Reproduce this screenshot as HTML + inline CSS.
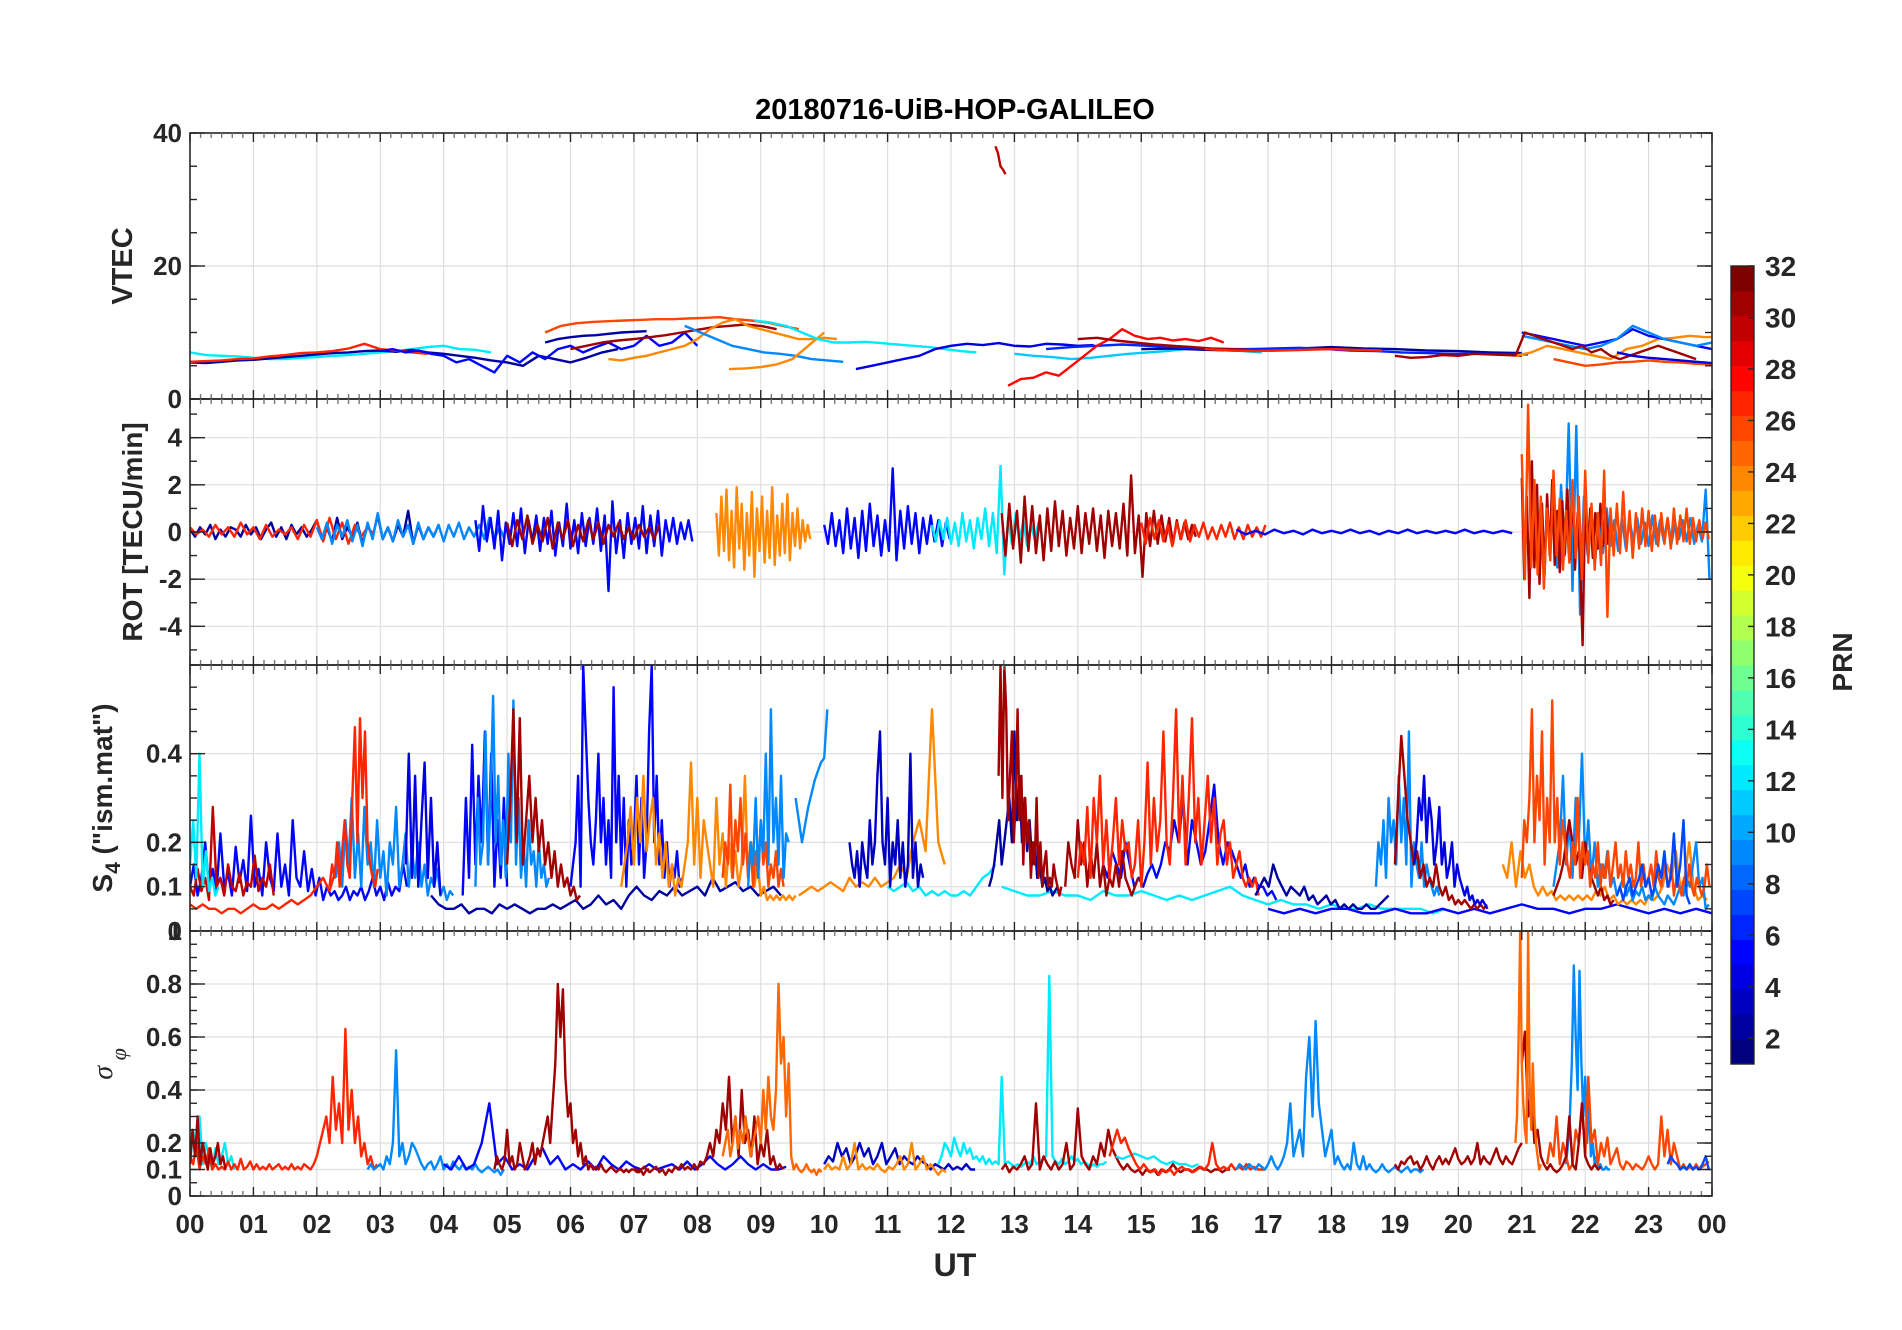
<!DOCTYPE html>
<html><head><meta charset="utf-8"><style>
html,body{margin:0;padding:0;background:#fff;}
svg{display:block;font-family:"Liberation Sans",Arial,sans-serif;}
.tl{font-size:26px;font-weight:bold;fill:#262626;}
</style></head><body>
<svg id="fig" width="1902" height="1330" viewBox="0 0 1902 1330" xmlns="http://www.w3.org/2000/svg">
<rect x="0" y="0" width="1902" height="1330" fill="#fff"/>
<text x="955" y="119" text-anchor="middle" font-size="29" font-weight="bold" fill="#000">20180716-UiB-HOP-GALILEO</text>
<g id="grid"></g><g id="series"></g><g id="axes"></g><g id="labels"></g><g id="cbar"></g>
<text x="955" y="1276" text-anchor="middle" font-size="32" font-weight="bold" fill="#262626">UT</text>
<text transform="translate(132,266) rotate(-90)" text-anchor="middle" font-size="29" font-weight="bold" fill="#262626">VTEC</text>
<text transform="translate(142,532) rotate(-90)" text-anchor="middle" font-size="28" font-weight="bold" fill="#262626">ROT [TECU/min]</text>
<text transform="translate(112,798) rotate(-90)" text-anchor="middle" font-size="28" font-weight="bold" fill="#262626">S<tspan font-size="21" dy="8">4</tspan><tspan dy="-8"> ("ism.mat")</tspan></text>
<text transform="translate(112,1064) rotate(-90)" text-anchor="middle" font-size="28" font-style="italic" fill="#262626" font-family="Liberation Serif, serif">σ<tspan font-size="22" dy="14"> φ</tspan></text>
<text transform="translate(1852,662) rotate(-90)" text-anchor="middle" font-size="28" font-weight="bold" fill="#262626">PRN</text>
</svg>
<script>
// ---------- data ----------
const hourTicks = ["00","01","02","03","04","05","06","07","08","09","10","11","12","13","14","15","16","17","18","19","20","21","22","23","00"];
const vtecTicks = [0,20,40];
const rotTicks = [-4,-2,0,2,4];
const s4Ticks = [0.1,0.2,0.4];
const sigTicks = [0,0.1,0.2,0.4,0.6,0.8];
const prnTicks = [2,4,6,8,10,12,14,16,18,20,22,24,26,28,30,32];

// VTEC tracks: values in TECU
const v01=[5.5,5.4,5.6,5.8,5.9,6.1,6.3,6.5,6.7,6.9,7.0,7.2,7.3,7.1,7.4,7.0,6.8,6.5,6.2,5.8,5.5,5.0,6.5,6.0,5.5,6.2,7.0,7.5];
const v02=[5.6,5.7,5.8,6.0,6.1,6.4,6.6,6.9,7.0,7.2,7.6,8.3,7.5,7.3,7.0,6.8];
const v03=[7.0,6.6,6.5,6.4,6.2,6.0,6.0,6.2,6.3,6.5,6.6,6.8,7.0,7.2,7.5,7.8,8.0,7.5,7.4,7.0];
const v04=[7.2,7.5,7.0,7.3,6.8,6.5,5.5,6.0,5.0,4.0,6.5,5.5,7.0,6.0,7.5,8.0,7.0,7.8,8.5,7.5,8.0,9.5,8.0,8.5,10.0,8.0];
const v05=[10.0,11.0,11.4,11.6,11.7,11.8,11.9,12.0,12.0,12.1,12.2,12.3,12.0,11.8,11.5,11.0,10.5];
const v06=[8.5,9.0,9.3,9.5,9.6,9.8,10.0,10.1,10.2];
const v07=[7.5,8.0,8.5,8.8,9.0,9.3,9.6,10.0,10.4,10.8,11.0,11.2,11.0,10.5];
const v08=[6.0,5.8,6.2,6.5,7.0,7.5,8.0,9.0,10.5,11.5,12.0,11.0,10.5,10.0,9.5,9.0,9.0,9.2,9.0];
const v09=[11.0,10.0,9.0,8.0,7.5,7.0,6.8,6.5,6.0,5.8,5.6];
const v10=[4.5,4.6,4.8,5.2,6.0,8.0,10.0];
const v11=[11.8,11.5,11.0,10.0,9.0,8.5,8.5,8.6,8.4,8.2,8.0,7.8,7.5,7.2,7.0];
const v12=[4.5,5.0,5.5,6.0,6.5,7.5,8.0,8.3,8.1,8.4,8.0,7.9,8.3,8.2,8.0,8.1];
const v13=[38,37,35,34.5,33.8];
const v14=[2,3,3.2,4,3.5,5,6.5,8,9,10.5,9.5,9,9.2,8.8,9.0,8.7,9.2,8.5];
const v15=[6.8,6.5,6.3,6.0,6.2,6.5,6.8,7.0,7.2,7.5,7.6,7.4,7.2,7.0];
const v16=[9.0,9.2,8.8,8.5,8.2,8.0,7.8,7.6,7.5,7.4];
const v17=[7.5,7.8,8.0,8.2,8.0,7.8,7.6,7.5,7.5,7.6,7.7,7.5,7.3,7.2,7.0,6.9,6.8,6.8,6.7,6.7];
const v18=[7.5,7.3,7.2,7.3,7.4,7.5,7.4,7.3];
const v19=[6.5,6.2,6.3,6.6,6.5,6.8,6.7,6.6,6.5];
const v20=[6.5,10.0,9.5,9.0,8.5,8.0,7.5,8.0,7.0,7.5,6.5,6.0,6.5,7.0,7.5,8.0,7.5,7.0,6.5,6.0];
const v21=[6.5,7.0,8.0,7.5,7.0,6.5,6.0,7.5,8.0,9.0,9.2,9.5,9.3,9.4,9.6,9.8];
const v22=[10.0,9.5,9.0,8.5,8.0,8.5,9.0,10.5,9.5,9.0,8.5,8.0,7.5,7.5,7.2,7.0];
const v23=[9.5,9.0,8.5,8.0,7.5,8.0,9.0,11.0,10.0,9.0,8.5,8.0,8.5,7.5,7.0,6.0];
const v24=[6.0,5.5,5.0,5.2,5.5,5.6,5.8,5.6,5.5,5.3,5.2,5.0];
const v25=[7,6.5,6.2,6,5.8,5.6,5.4];
const v26=[7.5,7.6,7.4,7.3,7.4,7.6,7.8,7.6,7.5,7.3,7.2,7.0,6.9];
// [prn, startHour, stepHours, values]
const vtecTracks=[[12,0,.25,v03],[2,0,.25,v01],[27,0,.25,v02],[5,3,.2,v04],[26,5.6,.25,v05],[2,5.6,.2,v06],[31,6,.25,v07],[24,6.6,.2,v08],[9,7.8,.25,v09],[24,8.5,.25,v10],[12,8.9,.25,v11],[4,10.5,.25,v12],[30,12.7,.04,v13],[11,13,.3,v15],[2,15,.5,v26],[6,13.5,.4,v17],[28,12.9,.2,v14],[31,14,.3,v16],[27,16,.4,v18],[31,19,.25,v19],[24,20.9,.25,v21],[5,21,.25,v22],[9,21,.25,v23],[26,21.5,.25,v24],[31,20.9,.15,v20],[4,22.5,.25,v25]];

// ROT tracks: TECU/min
const r01=[0.1,-0.2,0.2,-0.1,0.3,-0.3,0.1,-0.2,0.2,0.1,-0.2,0.3,-0.1,0.2,-0.3,0.1,0.4,-0.2,0.2,-0.3,0.3,-0.1,0.2,-0.2,0.1,0.5,-0.3,0.2,-0.4,0.6,-0.3,0.2,-0.2,0.4,-0.5,0.3,-0.2,0.7,-0.3,0.2,-0.4,0.3,-0.2,0.9,-0.5,0.3,-0.3,0.2,-0.2,0.3];
const r02=[0.2,-0.1,0.1,-0.2,0.3,-0.1,0.2,-0.2,0.4,-0.1,0.2,-0.3,0.3,-0.2,0.1,-0.1,0.2,-0.3,0.3,-0.2,0.5,-0.4,0.6,-0.3,0.4,-0.5,0.3,-0.2,0.2,-0.1];
const r03=[0.2,-0.3,0.4,-0.5,0.3,-0.2,0.5,-0.4,0.3,-0.6,0.4,-0.3,0.8,-0.3,0.2,-0.4,0.5,-0.2,0.3,-0.5,0.4,-0.3,0.2,-0.2,0.3,-0.4,0.3,-0.2,0.4,-0.3,0.2,-0.2,0.3,-0.3,0.6,-0.3,0.2,-0.3];
const r04=[0.5,-0.8,1.1,-0.4,0.6,-0.7,0.9,-1.2,0.4,-0.5,0.8,-0.6,1.0,-0.9,0.5,-0.4,0.7,-0.8,0.6,-0.5,0.9,-1.0,0.4,-0.6,1.2,-0.7,0.5,-0.9,0.8,-0.6,0.6,-0.5,1.0,-0.8,0.7,-2.5,1.3,-0.9,0.5,-1.1,0.8,-0.5,0.6,-0.7,1.1,-0.9,0.7,-0.6,0.9,-1.0,0.5,-0.4,0.6,-0.5,0.4,-0.3,0.5,-0.4];
const r05=[0.4,-0.6,0.5,-0.3,0.7,-0.5,0.3,-0.4,0.6,-0.7,0.4,-0.3,0.5,-0.6,0.3,-0.4,0.5,-0.3,0.4,-0.5,0.3,-0.2,0.4,-0.3,0.2,-0.3,0.3,-0.2,0.2,-0.3,0.3];
const r06=[0.8,-1.0,1.5,-0.8,1.8,-1.2,0.9,-1.5,1.9,-0.7,1.2,-1.6,0.8,-1.0,1.7,-1.9,1.0,-0.8,1.5,-1.3,0.9,-1.1,1.9,-1.4,0.7,-1.0,1.2,-0.9,1.6,-1.2,0.8,-0.6,1.0,-0.7,0.5,-0.4,0.3,-0.3];
const r07=[0.3,-0.5,0.8,-0.6,0.5,-0.9,1.0,-0.7,0.6,-1.1,0.9,-0.8,1.2,-0.6,0.7,-1.0,0.5,-0.8,2.7,-1.2,0.9,-0.7,1.1,-0.5,0.8,-0.9,0.6,-0.5,0.7,-0.4,0.5,-0.6,0.4,-0.3];
const r08=[0.3,-0.4,0.5,-0.3,0.6,-0.5,0.4,-0.6,0.8,-0.4,0.5,-0.7,0.6,-0.3,1.0,-0.6,0.8,-0.9,2.8,-1.8,0.6,-0.5,0.8,-0.4,0.5,-0.6,0.3,-0.3,0.4,-0.2];
const r09=[0.8,-1.0,1.2,-0.7,0.9,-1.3,1.5,-0.8,1.1,-0.9,0.7,-1.2,1.0,-0.8,1.3,-0.6,0.9,-1.0,0.6,-0.7,1.1,-0.9,0.8,-0.5,1.0,-0.8,0.7,-1.1,0.9,-0.6,0.8,-0.7,1.2,-1.0,2.4,-0.9,0.7,-1.9,0.8,-0.6,0.9,-0.5,0.7,-0.4,0.6,-0.5,0.5,-0.3,0.4,-0.3,0.3,-0.2];
const r10=[0.4,-0.5,0.6,-0.3,0.5,-0.4,0.3,-0.6,0.4,-0.3,0.5,-0.4,0.3,-0.2,0.4,-0.3,0.2,-0.3,0.3,-0.2,0.4,-0.3,0.2,-0.3,0.3,-0.2,0.2,-0.2,0.3];
const r11=[0.1,-0.1,0.05,-0.1,0.1,-0.05,0.05,-0.1,0.1,-0.05,0.05,-0.05,0.1,-0.05,0.05,-0.1,0.05,-0.05,0.1,-0.05,0.05,-0.05,0.05,-0.05,0.1,-0.05,0.05,-0.05,0.05,-0.05];
const r12=[2.3,-2.0,1.5,-2.8,3.0,-1.5,2.0,-2.2,1.2,-1.8,1.6,-1.0,2.2,-1.4,0.9,-1.7,1.3,-0.9,1.8,-1.2,2.1,-1.6,0.8,-1.3,-4.8,1.5,-0.9,1.0,-1.1,0.8,-0.7,1.2,-0.6,0.9,-0.5,0.7,-0.4];
const r13=[3.3,-2.0,5.4,-1.5,2.2,-1.8,1.5,-2.4,1.0,-1.2,2.6,-1.0,1.4,-1.6,0.9,-1.3,2.2,-1.1,1.5,-2.0,2.6,-1.3,1.2,-1.6,0.8,-1.4,2.6,-3.6,1.0,-1.0,1.2,-0.9,1.7,-0.8,0.9,-1.1,0.8,-0.7,1.0,-0.6,0.9,-0.8,0.7,-0.6,0.8,-0.5,0.6,-0.7,1.0,-0.5,0.7,-0.4,1.0,-0.5,0.6,-0.4,0.5,-0.3,0.4,-0.3];
const r14=[1.0,-1.5,2.0,-1.0,4.6,-2.5,4.5,-3.5,1.5,-1.0,0.8,-1.2,0.7,-0.9,1.0,-0.6,0.5,-0.8,0.6,-0.7,0.5,-0.4,0.6,-0.5,0.4,-0.6,0.7,-0.5,0.5,-0.4,0.6,-0.5,0.4,-0.3,0.5,-0.4,0.6,-0.5,0.3,-0.4,1.8,-2.0];
const rotTracks=[[2,0,.08,r01],[27,0,.1,r02],[9,2,.08,r03],[5,4.5,.06,r04],[31,5,.08,r05],[24,8.3,.04,r06],[5,10,.06,r07],[12,11.7,.06,r08],[31,12.8,.06,r09],[27,15,.07,r10],[5,16.5,.15,r11],[9,21.5,.06,r14],[31,21,.04,r12],[26,21,.05,r13]];

// S4 tracks
const s01=[0.15,0.25,0.12,0.4,0.1,0.18,0.09,0.12,0.08,0.1];
const s02=[0.1,0.15,0.08,0.12,0.2,0.1,0.14,0.09,0.22,0.1,0.13,0.08,0.19,0.11,0.16,0.09,0.26,0.1,0.14,0.08,0.2,0.12,0.09,0.22,0.1,0.15,0.08,0.25,0.12,0.1,0.18,0.09,0.14,0.08,0.12,0.07,0.1,0.08,0.09,0.07,0.08,0.1,0.07,0.09,0.08,0.1,0.07,0.09,0.12,0.08,0.1,0.07,0.11,0.08,0.1,0.09,0.15,0.1];
const s03=[0.1,0.08,0.14,0.09,0.12,0.07,0.28,0.1,0.12,0.08,0.15,0.1,0.09,0.13,0.08,0.11,0.1,0.17,0.09,0.12,0.1,0.15,0.08];
const s04=[0.06,0.05,0.06,0.05,0.05,0.04,0.05,0.05,0.04,0.05,0.06,0.05,0.05,0.06,0.05,0.06,0.07,0.06,0.07,0.08,0.1,0.12,0.09,0.14];
const s04b=[0.1,0.15,0.12,0.2,0.1,0.18,0.25,0.15,0.12,0.3,0.46,0.2,0.48,0.3,0.45,0.2,0.15,0.12,0.1,0.14];
const s05=[0.12,0.2,0.1,0.25,0.15,0.3,0.12,0.22,0.1,0.28,0.15,0.2,0.1,0.25,0.12,0.18,0.08,0.2,0.15,0.28,0.1,0.15,0.22,0.1,0.18,0.12,0.2,0.1,0.15,0.08,0.12,0.1,0.14,0.08,0.1,0.07,0.09,0.08];
const s06=[0.15,0.4,0.12,0.35,0.1,0.25,0.38,0.12,0.3,0.1,0.2,0.08];
const s07=[0.08,0.06,0.05,0.05,0.06,0.04,0.05,0.05,0.04,0.06,0.05,0.06,0.05,0.04,0.05,0.05,0.06,0.05,0.06,0.07,0.05,0.06,0.08,0.06,0.07,0.05,0.08,0.1,0.08,0.07,0.09,0.08,0.1,0.08,0.09,0.1,0.08,0.12,0.09,0.1,0.11,0.09,0.1,0.08,0.09,0.1,0.08];
const s08=[0.1,0.3,0.15,0.2,0.45,0.15,0.3,0.53,0.2,0.35,0.15,0.25,0.12,0.4,0.2,0.52,0.15,0.3,0.12,0.2,0.1,0.25,0.15,0.18,0.1,0.2,0.12,0.15,0.1,0.12];
const s09=[0.08,0.3,0.12,0.42,0.15,0.35,0.2,0.45,0.15,0.4,0.1,0.25,0.12,0.3,0.1];
const s10=[0.15,0.3,0.5,0.2,0.48,0.15,0.25,0.35,0.2,0.3,0.18,0.25,0.15,0.2,0.12,0.18,0.1,0.15,0.1,0.12,0.08,0.1,0.07,0.08];
const s11=[0.1,0.15,0.2,0.35,0.1,0.6,0.45,0.3,0.2,0.15,0.25,0.4,0.2,0.3,0.15,0.25,0.12,0.55,0.2,0.35,0.15,0.3,0.1,0.25,0.15,0.2,0.35,0.15,0.3,0.12,0.2,0.45,0.6,0.2,0.35,0.15,0.25,0.12,0.2,0.1,0.15,0.12,0.18,0.1,0.12];
const s12=[0.1,0.15,0.2,0.28,0.15,0.3,0.2,0.35,0.18,0.25,0.3,0.15,0.22,0.12,0.2,0.1,0.15,0.08,0.12,0.1,0.15,0.2,0.38,0.15,0.3,0.12,0.25,0.2,0.15,0.1,0.3,0.15,0.22,0.1,0.2,0.12,0.18,0.1,0.15,0.35,0.12,0.2,0.1,0.15,0.08,0.1,0.07,0.08,0.07,0.08,0.07,0.08,0.07,0.08,0.07,0.08];
const s13=[0.12,0.2,0.15,0.33,0.12,0.25,0.18,0.3,0.15,0.22,0.12,0.2,0.1,0.18,0.12,0.25,0.15,0.2,0.1,0.15,0.12,0.18,0.1,0.14,0.1];
const s14=[0.1,0.2,0.15,0.3,0.12,0.25,0.18,0.4,0.15,0.5,0.2,0.3,0.15,0.35,0.12,0.22,0.2];
const s14b=[0.3,0.25,0.2,0.24,0.28,0.31,0.34,0.36,0.38,0.39,0.5];
const s15=[0.08,0.09,0.1,0.09,0.1,0.11,0.1,0.09,0.12,0.1,0.11,0.1,0.12,0.1,0.11,0.12,0.15,0.12,0.2,0.25,0.18,0.5,0.2,0.15];
const s16=[0.2,0.15,0.12,0.18,0.1,0.2,0.15,0.12,0.25,0.15,0.2,0.35,0.45,0.2,0.15,0.3,0.1,0.2,0.15,0.25,0.12,0.2,0.1,0.15,0.4,0.12,0.2,0.1,0.15,0.12];
const s17=[0.1,0.09,0.1,0.11,0.09,0.1,0.08,0.09,0.08,0.09,0.08,0.08,0.09,0.08,0.1,0.12,0.13,0.15];
const s18=[0.35,0.6,0.3,0.6,0.5,0.25,0.35,0.45,0.2,0.3,0.5,0.25,0.35,0.15,0.3,0.2,0.25,0.12,0.2,0.15,0.3,0.12,0.2,0.1,0.15,0.18,0.1,0.12,0.1,0.15,0.12,0.1,0.08,0.1];
const s19=[0.1,0.12,0.15,0.2,0.25,0.15,0.2,0.25,0.3,0.2,0.45,0.25,0.35,0.2,0.3,0.18,0.25,0.15,0.2,0.12,0.15,0.1,0.12,0.09,0.1,0.08,0.09,0.1];
const s20=[0.1,0.09,0.08,0.08,0.09,0.08,0.08,0.07,0.09,0.08,0.08,0.09,0.08,0.07,0.08,0.07,0.08,0.09,0.1,0.08,0.07,0.06,0.07,0.06,0.06,0.05,0.06,0.05,0.05,0.06,0.05,0.05,0.05,0.05,0.04,0.05];
const s21=[0.12,0.2,0.15,0.28,0.12,0.3,0.2,0.35,0.15,0.25,0.12,0.2,0.3,0.15,0.25,0.18,0.2,0.12,0.15,0.25,0.1,0.2,0.38,0.15,0.3,0.18,0.25,0.45,0.2,0.15,0.3,0.5,0.2,0.35,0.15,0.3,0.48,0.2,0.3,0.15,0.25,0.35,0.2,0.3,0.15,0.22,0.25,0.15,0.2,0.12,0.15,0.18,0.12,0.1,0.12,0.1,0.12,0.08];
const s22=[0.1,0.2,0.15,0.12,0.25,0.15,0.2,0.1,0.18,0.12,0.2,0.1,0.15,0.08,0.12,0.1,0.15,0.1,0.18,0.12,0.1,0.08,0.1,0.12];
const s23=[0.15,0.12,0.18,0.15,0.12,0.2,0.15,0.1,0.12,0.1,0.13,0.15,0.12,0.15,0.2,0.18,0.25,0.2,0.3,0.15,0.25,0.2,0.15,0.18,0.25,0.33,0.2,0.15,0.2,0.18,0.15,0.12,0.15,0.1,0.12,0.1,0.1,0.08,0.09,0.07];
const s24=[0.08,0.1,0.12,0.1,0.15,0.12,0.1,0.08,0.1,0.09,0.08,0.1,0.07,0.08,0.06,0.07,0.08,0.06,0.07,0.05,0.06,0.05,0.06,0.05,0.05,0.06,0.05,0.05,0.06,0.07,0.08];
const s25=[0.05,0.04,0.05,0.04,0.05,0.05,0.04,0.04,0.05,0.04,0.04,0.05,0.04,0.05,0.04,0.05,0.06,0.05,0.05,0.04,0.05,0.05,0.06,0.05,0.04,0.05,0.04,0.05,0.04];
const s26=[0.1,0.2,0.15,0.25,0.12,0.3,0.2,0.25,0.15,0.35,0.2,0.3,0.15,0.45,0.1,0.2,0.15,0.12,0.2,0.1,0.15,0.12,0.1,0.08,0.1,0.08];
const s27=[0.15,0.3,0.44,0.35,0.25,0.2,0.15,0.18,0.12,0.15,0.1,0.12,0.1,0.15,0.1,0.08,0.1,0.07,0.08,0.06,0.07,0.06,0.07,0.06,0.05,0.06,0.05,0.06,0.05,0.06];
const s28=[0.15,0.2,0.3,0.25,0.35,0.2,0.3,0.25,0.15,0.2,0.28,0.15,0.2,0.12,0.15,0.2,0.1,0.15,0.12,0.1,0.08,0.1,0.07,0.08,0.06,0.07,0.06,0.07,0.06,0.05];
const s29=[0.15,0.12,0.2,0.1,0.18,0.12,0.15,0.1,0.08,0.1,0.08,0.09,0.07,0.08,0.07,0.08,0.07,0.08,0.07,0.08,0.07,0.09,0.08,0.1,0.07,0.08,0.06,0.07,0.06,0.07,0.06,0.07,0.06,0.08,0.07,0.08,0.1,0.15,0.12,0.18,0.1,0.12,0.2,0.1,0.07,0.08,0.07];
const s30=[0.12,0.25,0.2,0.3,0.5,0.2,0.35,0.25,0.45,0.15,0.3,0.2,0.52,0.2,0.3,0.15,0.25,0.2,0.15,0.12,0.2,0.15,0.3,0.12,0.2,0.15,0.18,0.1,0.15,0.12,0.2,0.1,0.15,0.12,0.18,0.1,0.15,0.2,0.12,0.15,0.1,0.18,0.12,0.15,0.1,0.12,0.2,0.1,0.15,0.1,0.12,0.15,0.1,0.18,0.12,0.1,0.15,0.12,0.1,0.15,0.08,0.12,0.1,0.08,0.12,0.1,0.15,0.1,0.08,0.12,0.1,0.08,0.1,0.15,0.1];
const s31=[0.1,0.15,0.2,0.35,0.15,0.25,0.12,0.3,0.2,0.4,0.15,0.25,0.12,0.2,0.1,0.15,0.12,0.18,0.1,0.12,0.08,0.1,0.12,0.08,0.1,0.07,0.09,0.08,0.1,0.07,0.08,0.07,0.1,0.08,0.07,0.06,0.08,0.07,0.06,0.08,0.1,0.08,0.12,0.1,0.15,0.2,0.1,0.12,0.05,0.06];
const s32=[0.08,0.1,0.12,0.15,0.2,0.25,0.2,0.15,0.18,0.12,0.2,0.15,0.12,0.1,0.08,0.1,0.07,0.08,0.06,0.07];
const s33=[0.08,0.1,0.07,0.1,0.12,0.08,0.1,0.12,0.15,0.1,0.12,0.08,0.1,0.15,0.12,0.18,0.1,0.12,0.22,0.1,0.15,0.25,0.08,0.06];
const s4Tracks=[[5,0,.06,s02],[30,0,.06,s03],[12,0,.05,s01],[27,0,.1,s04],[9,2.3,.05,s05],[27,2.2,.04,s04b],[4,3.4,.05,s06],[2,3.8,.12,s07],[5,4.3,.05,s09],[9,4.5,.04,s08],[31,5,.05,s10],[5,6,.04,s11],[24,6.8,.05,s12],[26,8.4,.04,s13],[9,8.8,.04,s14],[9,9.55,.05,s14b],[12,11,.1,s17],[24,9.6,.1,s15],[3,10.4,.04,s16],[12,12.8,.2,s20],[2,12.6,.04,s19],[31,12.75,.03,s18],[5,14.4,.07,s23],[31,13.8,.05,s22],[27,14,.05,s21],[2,16.8,.07,s24],[5,17,.25,s25],[9,18.7,.04,s26],[31,19,.05,s27],[4,19.3,.04,s28],[24,20.7,.07,s29],[9,21.5,.05,s31],[31,21.5,.05,s32],[26,21,.04,s30],[7,22.5,.05,s33]];

// sigma phi tracks
const g01=[0.15,0.12,0.2,0.1,0.15,0.12,0.18,0.1,0.12,0.1,0.11,0.1,0.13,0.1,0.12,0.1,0.14,0.1,0.11,0.13,0.1,0.12,0.1,0.11,0.1,0.12,0.1,0.11,0.12,0.1,0.11,0.1,0.12,0.1,0.11,0.1,0.12,0.11,0.1,0.12,0.15,0.2,0.25,0.3,0.2,0.45,0.25,0.35,0.2,0.63,0.25,0.4,0.2,0.3,0.15,0.2,0.12,0.15,0.1,0.12];
const g02=[0.12,0.25,0.15,0.3,0.12,0.2,0.15,0.1,0.18,0.12,0.15,0.2,0.12,0.15,0.1];
const g03=[0.1,0.12,0.1,0.11,0.12,0.1,0.15,0.12,0.2,0.55,0.15,0.2,0.12,0.15,0.2,0.18,0.15,0.12,0.1,0.12,0.13,0.1,0.12,0.15,0.1,0.12,0.1,0.13,0.11,0.1,0.12,0.1,0.11,0.1,0.12,0.1,0.09,0.1,0.11,0.1,0.09,0.1,0.08,0.1];
const g04=[0.1,0.15,0.12,0.1,0.13,0.25,0.12,0.15,0.1,0.12,0.2,0.15,0.1,0.12,0.15,0.2,0.12,0.18,0.15,0.2,0.25,0.3,0.2,0.35,0.5,0.8,0.6,0.78,0.45,0.3,0.35,0.2,0.25,0.15,0.2,0.12,0.15,0.1,0.12,0.1,0.11,0.1,0.12,0.1,0.09,0.1,0.11,0.1,0.09,0.1,0.1,0.09,0.1,0.09,0.1,0.1,0.1,0.09,0.1,0.11,0.1,0.1];
const g05=[0.12,0.1,0.15,0.1,0.12,0.2,0.35,0.12,0.15,0.1,0.12,0.1,0.15,0.18,0.12,0.15,0.1,0.12,0.1,0.13,0.1,0.15,0.12,0.1,0.13,0.11,0.1,0.12,0.1,0.11,0.12,0.1,0.13,0.1,0.12,0.15,0.12,0.1,0.12,0.15,0.12,0.1,0.12,0.1,0.1,0.11];
const g06=[0.1,0.09,0.1,0.08,0.1,0.09,0.1,0.11,0.09,0.1,0.08,0.1,0.09,0.11,0.1,0.12,0.1,0.11,0.1,0.12,0.1,0.13,0.12,0.15,0.2,0.15,0.25,0.2,0.35,0.25,0.45,0.2,0.3,0.15,0.4,0.2,0.25,0.15,0.3,0.12,0.2,0.15,0.25,0.12,0.15,0.1,0.12,0.1];
const g07=[0.15,0.2,0.25,0.15,0.2,0.3,0.18,0.25,0.2,0.3,0.22,0.15,0.2,0.25,0.3,0.2,0.4,0.25,0.45,0.3,0.25,0.4,0.8,0.5,0.6,0.3,0.5,0.15,0.1,0.12,0.1,0.09,0.1,0.12,0.1,0.09,0.1,0.08,0.1,0.09];
const g08=[0.1,0.12,0.1,0.11,0.1,0.15,0.1,0.12,0.2,0.1,0.12,0.1,0.11,0.1,0.12,0.1,0.09,0.11,0.1,0.12,0.15,0.1,0.12,0.2,0.1,0.12,0.15,0.1,0.12,0.1,0.08,0.1,0.09];
const g09=[0.12,0.15,0.13,0.2,0.15,0.18,0.12,0.15,0.2,0.15,0.18,0.12,0.15,0.2,0.12,0.15,0.18,0.12,0.15,0.13,0.12,0.15,0.13,0.12,0.1,0.12,0.11,0.1,0.12,0.1,0.11,0.1,0.12,0.1,0.1];
const g10=[0.12,0.15,0.2,0.18,0.15,0.22,0.18,0.15,0.2,0.16,0.18,0.14,0.15,0.13,0.15,0.12,0.14,0.12,0.13,0.12,0.45,0.12,0.13,0.12,0.11,0.12,0.11,0.12,0.13,0.12,0.15,0.12,0.13,0.14,0.15,0.83,0.15,0.13,0.12,0.14,0.12,0.13,0.15,0.13,0.14,0.12,0.13,0.12,0.11,0.12,0.11,0.12,0.12,0.13];
const g11=[0.1,0.12,0.09,0.11,0.1,0.12,0.15,0.1,0.12,0.35,0.1,0.15,0.12,0.1,0.13,0.1,0.12,0.2,0.1,0.12,0.33,0.15,0.12,0.1,0.15,0.12,0.2,0.15,0.25,0.18,0.15,0.12,0.1,0.12,0.1,0.09,0.1,0.08,0.1,0.09,0.1,0.08,0.1,0.09,0.1,0.12,0.1,0.09,0.1,0.1,0.09,0.1,0.11,0.1,0.1,0.09,0.1,0.1,0.09,0.1,0.1];
const g12=[0.15,0.2,0.25,0.2,0.22,0.18,0.15,0.12,0.1,0.12,0.1,0.09,0.1,0.08,0.1,0.09,0.1,0.08,0.1,0.11,0.1,0.1,0.09,0.1,0.11,0.1,0.12,0.2,0.12,0.1,0.11,0.1,0.12,0.1,0.11,0.1,0.12,0.1,0.11,0.1,0.1,0.1];
const g13=[0.15,0.14,0.15,0.16,0.15,0.14,0.15,0.13,0.12,0.13,0.12,0.12,0.11,0.12];
const g14=[0.1,0.12,0.11,0.1,0.12,0.11,0.1,0.12,0.11,0.1,0.12,0.15,0.12,0.1,0.12,0.15,0.2,0.35,0.15,0.2,0.25,0.15,0.45,0.6,0.3,0.66,0.35,0.25,0.15,0.2,0.25,0.12,0.15,0.12,0.1,0.12,0.1,0.2,0.12,0.1,0.15,0.1,0.12,0.1,0.09,0.1,0.12,0.1,0.09,0.1,0.11,0.1,0.09,0.1,0.11,0.09,0.1,0.1,0.09,0.1];
const g15=[0.12,0.1,0.13,0.12,0.14,0.15,0.12,0.13,0.1,0.12,0.15,0.12,0.1,0.13,0.15,0.12,0.14,0.12,0.15,0.18,0.14,0.12,0.13,0.15,0.12,0.14,0.2,0.12,0.15,0.13,0.12,0.15,0.18,0.14,0.12,0.15,0.13,0.12,0.15,0.18,0.2];
const g16=[0.2,0.3,0.6,1.0,0.5,0.35,0.25,0.2,1.0,0.4,0.25,0.5,0.3,0.2,0.15,0.1,0.12];
const g17=[0.5,0.62,0.3,0.4,0.2,0.25,0.15,0.12,0.1,0.12,0.1,0.09,0.1,0.12,0.15,0.3,0.12,0.1,0.2,0.35,0.15,0.12,0.1,0.12,0.1,0.11];
const g18=[0.12,0.2,0.3,0.5,0.87,0.6,0.4,0.85,0.5,0.3,0.45,0.2,0.35,0.15,0.2,0.12,0.15,0.1,0.12,0.1,0.1,0.11,0.1,0.1];
const g19=[0.12,0.2,0.15,0.3,0.12,0.2,0.15,0.1,0.12,0.25,0.2,0.35,0.15,0.45,0.2,0.25,0.12,0.2,0.15,0.22,0.12,0.15,0.18,0.12,0.1,0.13,0.12,0.1,0.12,0.11,0.1,0.12,0.15,0.12,0.1,0.12,0.3,0.15,0.25,0.12,0.2,0.15,0.1,0.12,0.1,0.11,0.1,0.12,0.1,0.11,0.12,0.13];
const g20=[0.12,0.15,0.13,0.12,0.1,0.11,0.1,0.12,0.1,0.11,0.1,0.12,0.15,0.1];
const sigTracks=[[12,0,.05,g02],[27,0,.05,g01],[31,0,.04,g02],[9,2.8,.05,g03],[5,4,.12,g05],[31,4.8,.04,g04],[31,7,.05,g06],[25,8.4,.04,g07],[3,10,.07,g09],[24,10,.06,g08],[12,11.8,.05,g10],[31,12.8,.06,g11],[12,14.6,.1,g13],[27,14.5,.06,g12],[9,16.5,.05,g14],[31,19,.05,g15],[9,21.7,.03,g18],[26,21.4,.05,g19],[31,21,.05,g17],[25,20.9,.025,g16],[7,23.3,.05,g20]];

// ---------- layout ----------
const NS="http://www.w3.org/2000/svg";
const X0=190, X1=1712;
const panels=[
 {name:"vtec",top:133,bot:399,min:0,max:40,ticks:vtecTicks,minor:5,tracks:vtecTracks},
 {name:"rot",top:399,bot:665,min:-5.64,max:5.64,ticks:rotTicks,minor:1,tracks:rotTracks},
 {name:"s4",top:665,bot:931,min:0,max:0.6,ticks:s4Ticks,minor:0.05,tracks:s4Tracks},
 {name:"sigma",top:931,bot:1196,min:0,max:1.0,ticks:sigTicks,minor:0.05,tracks:sigTracks}
];
function xs(h){return X0+(X1-X0)*h/24;}
function ys(p,v){return p.bot-(p.bot-p.top)*(v-p.min)/(p.max-p.min);}
function jet(prn){const v=(prn-1)/31;const c=t=>Math.round(255*Math.max(0,Math.min(1,1.5-Math.abs(4*v-t))));return `rgb(${c(3)},${c(2)},${c(1)})`;}
function el(tag,attrs,parent){const e=document.createElementNS(NS,tag);for(const k in attrs)e.setAttribute(k,attrs[k]);parent.appendChild(e);return e;}
const gGrid=document.getElementById('grid'),gSer=document.getElementById('series'),gAx=document.getElementById('axes'),gLab=document.getElementById('labels'),gCb=document.getElementById('cbar');

panels.forEach(p=>{
 const cp=el('clipPath',{id:'clip-'+p.name},gSer);el('rect',{x:X0,y:p.top,width:X1-X0,height:p.bot-p.top},cp);
 for(let h=1;h<24;h++){const ln=el('line',{x1:xs(h),x2:xs(h),y1:p.top,y2:p.bot,stroke:'#dedede','stroke-width':1.2},gGrid);
  
  }
 p.ticks.forEach(v=>{const y=ys(p,v);const ln=el('line',{x1:X0,x2:X1,y1:y,y2:y,stroke:'#dedede','stroke-width':1.2},gGrid);
  
  });
 const g=el('g',{'clip-path':`url(#clip-${p.name})`},gSer);
 
 
 p.tracks.forEach(t=>{const [prn,t0,dt,vals]=t;
  const pts=vals.map((v,i)=>xs(t0+i*dt).toFixed(1)+','+ys(p,v).toFixed(1)).join(' ');
  const pl=el('polyline',{points:pts,fill:'none',stroke:jet(prn),'stroke-width':2.4,'stroke-linejoin':'round'},g);
  
  });
 const box=el('rect',{x:X0,y:p.top,width:X1-X0,height:p.bot-p.top,fill:'none',stroke:'#262626','stroke-width':1.6},gAx);
 
 
 for(let m=0;m<=24*6;m++){const x=xs(m/6);const L=(m%6===0)?9:5;const c=(m%6===0)?'#262626':'#777';
  el('line',{x1:x,x2:x,y1:p.top,y2:p.top+L,stroke:c,'stroke-width':1.4},gAx);
  el('line',{x1:x,x2:x,y1:p.bot,y2:p.bot-L,stroke:c,'stroke-width':1.4},gAx);}
 for(let v=Math.ceil(p.min/p.minor)*p.minor;v<=p.max+1e-9;v+=p.minor){const y=ys(p,v);
  el('line',{x1:X0,x2:X0+7,y1:y,y2:y,stroke:'#262626','stroke-width':1.4},gAx);
  el('line',{x1:X1,x2:X1-7,y1:y,y2:y,stroke:'#262626','stroke-width':1.4},gAx);}
 p.ticks.forEach(v=>{const y=ys(p,v);
  el('line',{x1:X0,x2:X0+15,y1:y,y2:y,stroke:'#262626','stroke-width':1.4},gAx);
  el('line',{x1:X1,x2:X1-15,y1:y,y2:y,stroke:'#262626','stroke-width':1.4},gAx);
  const tx=el('text',{x:X0-8,y:y+9,'text-anchor':'end',class:'tl'},gLab);tx.textContent=String(v);
  
  });
});
{const t=el('text',{x:X0-8,y:ys(panels[2],0)+9,'text-anchor':'end',class:'tl'},gLab);t.textContent='0';
 
 
 const t2=el('text',{x:X0-8,y:ys(panels[3],1)+9,'text-anchor':'end',class:'tl'},gLab);t2.textContent='1';
 
 }
hourTicks.forEach((s,i)=>{const t=el('text',{x:xs(i),y:1233,'text-anchor':'middle',class:'tl'},gLab);t.textContent=s;
 
 });
const CB_T=266,CB_B=1064,CB_X=1731,CB_W=23;
function cby(v){return CB_B-(CB_B-CB_T)*(v-1)/31;}
for(let k=1;k<=32;k++){const h=(CB_B-CB_T)/32;const r=el('rect',{x:CB_X,y:CB_B-k*h,width:CB_W,height:h+0.5,fill:jet(k)},gCb);
 
 }
const cbBox=el('rect',{x:CB_X,y:CB_T,width:CB_W,height:CB_B-CB_T,fill:'none',stroke:'#262626','stroke-width':1.4},gCb);


prnTicks.forEach(v=>{const y=cby(v);el('line',{x1:CB_X+CB_W-6,x2:CB_X+CB_W,y1:y,y2:y,stroke:'#262626','stroke-width':1.4},gCb);
 const t=el('text',{x:1765,y:y+10,'font-size':28,'font-weight':'bold',fill:'#262626'},gCb);t.textContent=v;
 
 });
</script>
</body></html>
